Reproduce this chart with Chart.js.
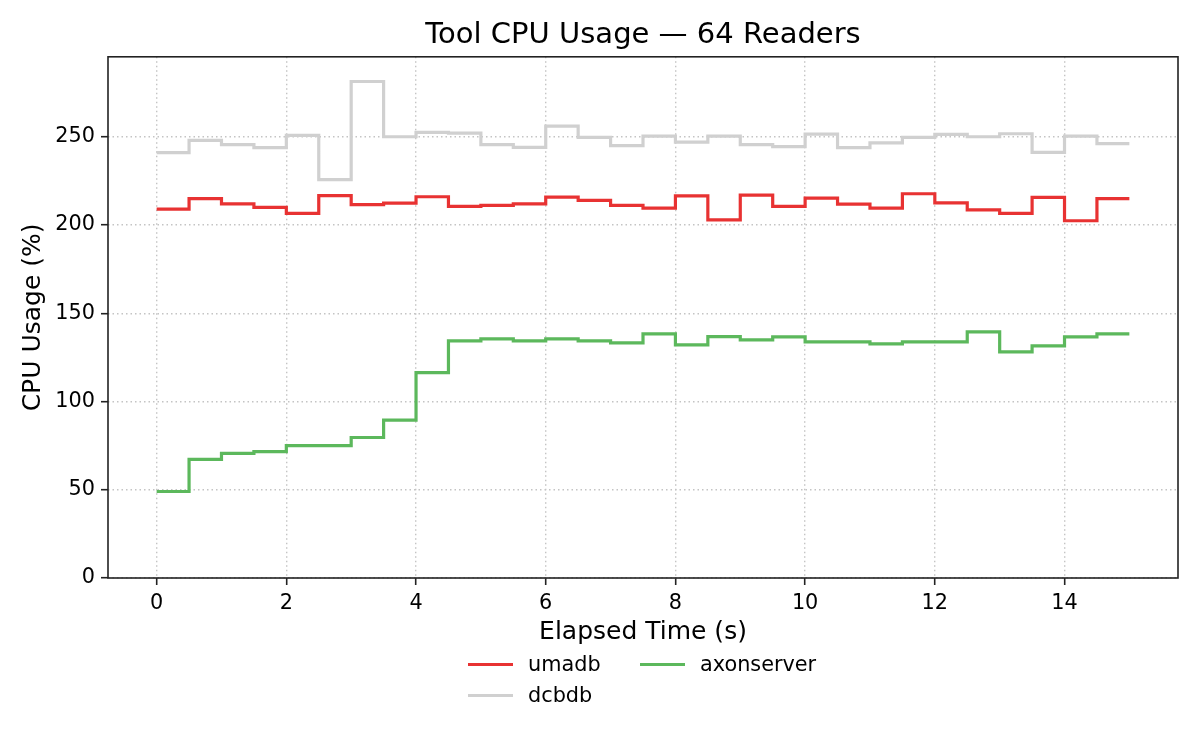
<!DOCTYPE html>
<html>
<head>
<meta charset="utf-8">
<title>Tool CPU Usage — 64 Readers</title>
<script src="https://cdn.jsdelivr.net/npm/chart.js@4/dist/chart.umd.min.js"></script>
<style>
    body { margin: 0; background: #fff; font-family: "DejaVu Sans", sans-serif; }
    #wrap { position: relative; width: 1200px; height: 750px; }
    #legend { position: absolute; left: 468px; top: 652px; font-size: 20.8px; color: #000; }
    .item { position: absolute; display: flex; align-items: center; white-space: nowrap; }
    .item span.swatch { display: inline-block; width: 45px; height: 3px; margin-right: 15px; }
</style>
</head>
<body>
<div id="wrap">
    <canvas id="cpuChart" width="1200" height="750"></canvas>
    <div id="legend"></div>
</div>
<script>
// elapsed time (s)
const times = [0, 0.5, 1, 1.5, 2, 2.5, 3, 3.5, 4, 4.5, 5, 5.5, 6, 6.5, 7, 7.5,
               8, 8.5, 9, 9.5, 10, 10.5, 11, 11.5, 12, 12.5, 13, 13.5, 14, 14.5, 15];

// CPU usage (%) per tool
const umadb = [209, 215, 212, 210, 206.6, 216.7, 211.6, 212.4, 216, 210.5, 211.1, 212, 215.8, 213.9, 211.1, 209.6,
               216.5, 202.9, 216.9, 210.5, 215.2, 211.8, 209.6, 217.7, 212.5, 208.6, 206.6, 215.6, 202.4, 215, 215];
const dcbdb = [241, 248, 245.5, 243.8, 250.8, 225.7, 281.3, 250, 252.5, 252, 245.5, 244, 256, 249.6, 245, 250.4,
               247, 250.4, 245.5, 244.4, 251.5, 243.8, 246.5, 249.6, 251.3, 250, 251.7, 241.2, 250.4, 246.1, 246.1];
const axonserver = [49, 67.2, 70.6, 71.6, 75, 75, 79.6, 89.5, 116.4, 134.3, 135.5, 134.3, 135.5, 134.3, 133.2, 138.3,
                    132.1, 136.8, 134.9, 136.6, 133.8, 133.8, 132.6, 133.8, 133.8, 139.4, 128.1, 131.5, 136.6, 138.3, 138.3];

const xTicks = [0, 2, 4, 6, 8, 10, 12, 14];
const yTicks = [0, 50, 100, 150, 200, 250];

const series = [
    { label: 'umadb', data: umadb, color: '#e83232' },
    { label: 'dcbdb', data: dcbdb, color: '#d0d0d0' },
    { label: 'axonserver', data: axonserver, color: '#5cb85c' }
];

const FONT = '"DejaVu Sans", sans-serif';
const gridStyle = {
    color: '#c4c4c4',
    lineWidth: 1.4,
    tickColor: '#222',
    tickWidth: 1.6,
    tickLength: 7,
    tickBorderDash: []
};
// in v4 the grid line dash lives on border.dash
const borderStyle = { display: false, dash: [1.5, 3] };

// matplotlib-like frame on all four sides
const frame = {
    id: 'frame',
    afterDatasetsDraw(chart) {
        const { ctx, chartArea: a } = chart;
        ctx.save();
        ctx.strokeStyle = '#222';
        ctx.lineWidth = 1.6;
        ctx.strokeRect(a.left, a.top, a.right - a.left, a.bottom - a.top);
        ctx.restore();
    }
};

new Chart(document.getElementById('cpuChart'), {
    type: 'line',
    data: {
        datasets: series.map(s => ({
            label: s.label,
            data: s.data.map((v, i) => ({ x: times[i], y: v })),
            borderColor: s.color,
            backgroundColor: s.color,
            borderWidth: 3.2,
            pointRadius: 0,
            stepped: 'before',
            fill: false
        }))
    },
    options: {
        responsive: false,
        animation: false,
        events: [],
        layout: { padding: { left: 0, right: 22, top: 0, bottom: 100 } },
        plugins: {
            legend: { display: false },
            tooltip: { enabled: false },
            title: {
                display: true,
                text: 'Tool CPU Usage — 64 Readers',
                fullSize: false,
                color: '#000',
                font: { family: FONT, size: 29, weight: 'normal' },
                padding: { top: 18, bottom: 4 }
            }
        },
        scales: {
            x: {
                type: 'linear',
                min: -0.75,
                max: 15.75,
                afterBuildTicks: axis => { axis.ticks = xTicks.map(v => ({ value: v })); },
                afterFit: axis => { axis.height = 72; },
                grid: gridStyle,
                border: borderStyle,
                ticks: { color: '#000', padding: 6, maxRotation: 0, font: { family: FONT, size: 20.8 } },
                title: {
                    display: true,
                    text: 'Elapsed Time (s)',
                    color: '#000',
                    font: { family: FONT, size: 25 },
                    padding: { top: 0, bottom: 3 }
                }
            },
            y: {
                min: 0,
                max: 295.3,
                afterBuildTicks: axis => { axis.ticks = yTicks.map(v => ({ value: v })); },
                afterFit: axis => { axis.width = 108; },
                grid: gridStyle,
                border: borderStyle,
                ticks: { color: '#000', padding: 6, font: { family: FONT, size: 20.8 } },
                title: {
                    display: true,
                    text: 'CPU Usage (%)',
                    color: '#000',
                    font: { family: FONT, size: 25 },
                    padding: { top: 18, bottom: 0 }
                }
            }
        }
    },
    plugins: [frame]
});

// legend: two columns, filled column by column like matplotlib ncol=2
const legendEl = document.getElementById('legend');
const colX = [0, 172];
const rowY = [0, 31];
series.forEach((s, i) => {
    const item = document.createElement('div');
    item.className = 'item';
    item.style.left = colX[Math.floor(i / 2)] + 'px';
    item.style.top = rowY[i % 2] + 'px';
    item.innerHTML = `<span class="swatch" style="background:${s.color}"></span>${s.label}`;
    legendEl.appendChild(item);
});
</script>
</body>
</html>
